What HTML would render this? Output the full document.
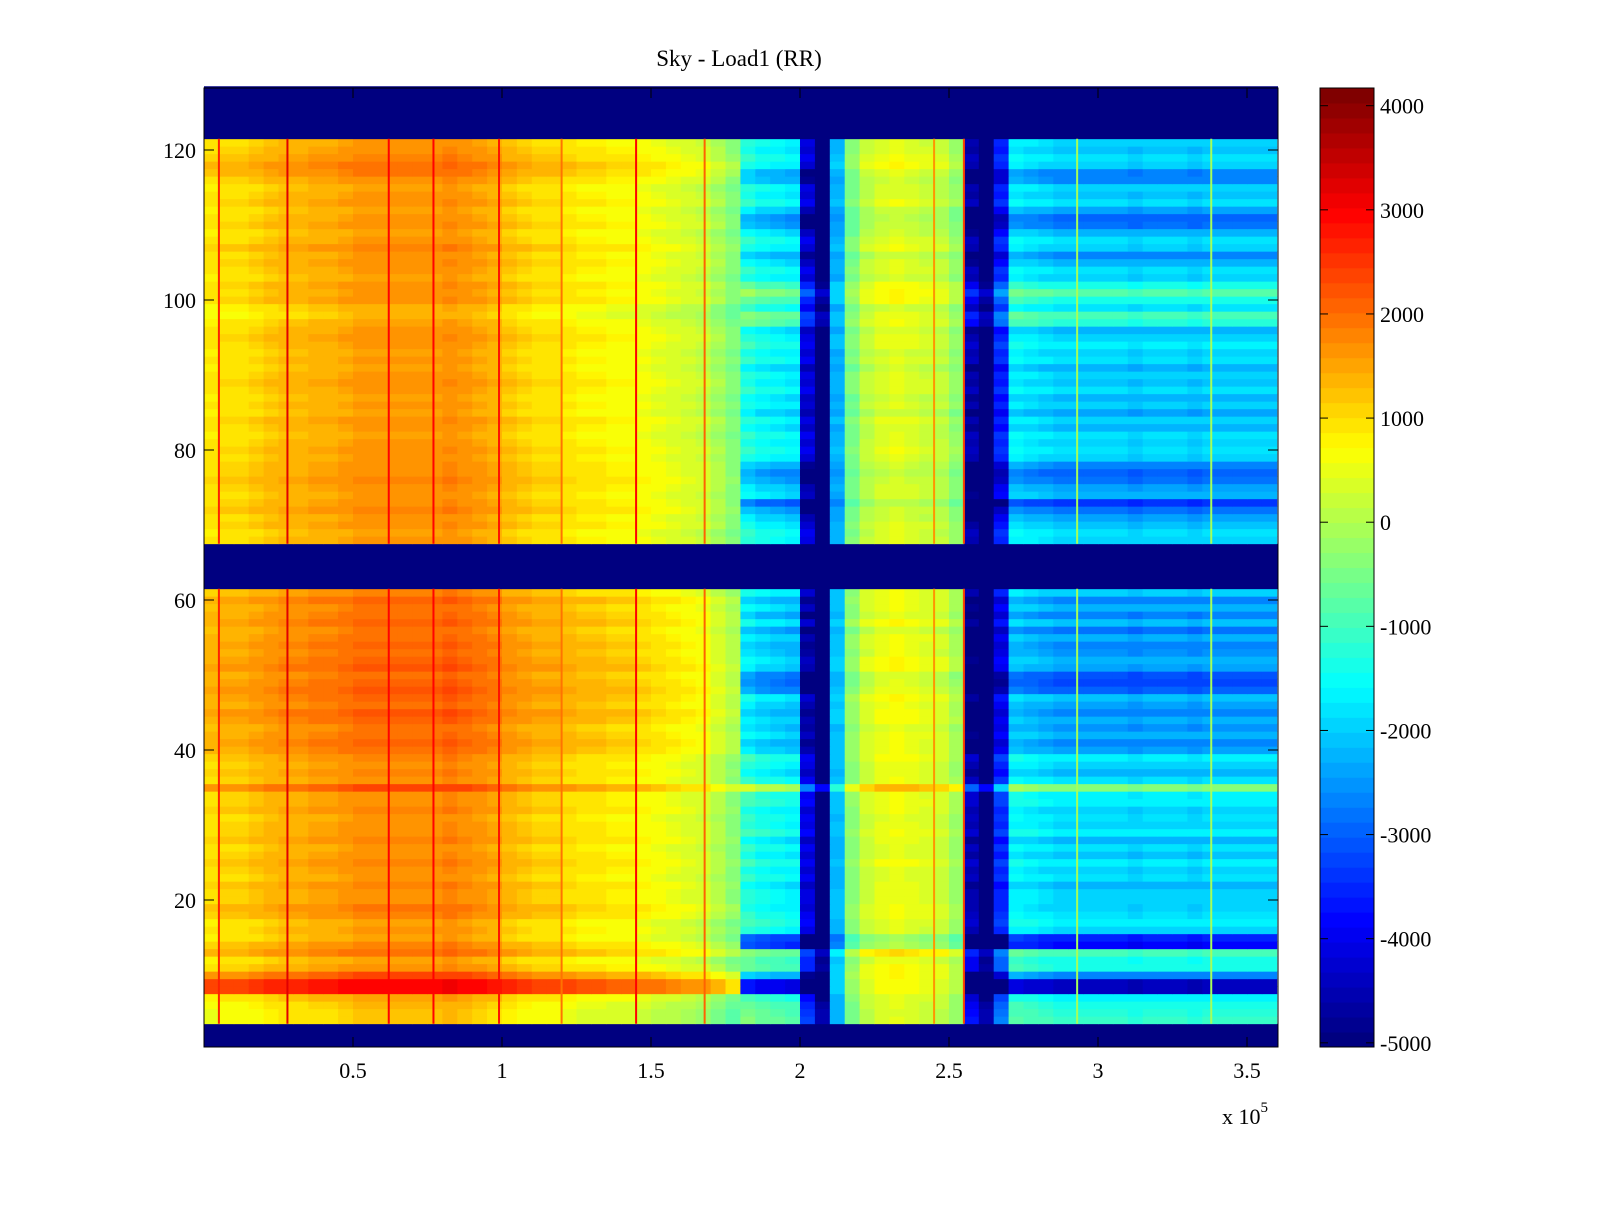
<!DOCTYPE html>
<html>
<head>
<meta charset="utf-8">
<style>
  html,body{margin:0;padding:0;background:#fff;}
  body{width:1600px;height:1200px;overflow:hidden;}
  svg text{font-family:"Liberation Serif","Times New Roman",serif;fill:#000;}
</style>
</head>
<body>
<svg id="chart" width="1600" height="1200" viewBox="0 0 1600 1200" xmlns="http://www.w3.org/2000/svg">
  <rect x="0" y="0" width="1600" height="1200" fill="#fff"/>
  <text x="739" y="66" font-size="23" text-anchor="middle">Sky - Load1 (RR)</text>
  <g id="cells"></g>
  <g id="lines"></g>
  <g id="axes"></g>
  <g id="cbar"></g>
</svg>
<script>
// ---- data (values in units; row offsets in hundreds) ----
const xBinWidth = 5000;
const colBase = [800,900,900,1000,1100,1200,1200,1300,1300,1400,
  1500,1500,1500,1500,1500,1500,1600,1500,1400,1300,
  1100,1000,900,900,800,700,700,600,600,500,
  400,300,200,100,-200,-500,-900,-1100,-1200,-1300,
  -3800,-5000,-2200,-400,200,400,500,400,300,200,
  -200,-4200,-5000,-3200,-1300,-1400,-1500,-1600,-1600,-1600,
  -1600,-1600,-1700,-1600,-1600,-1600,-1700,-1600,-1600,-1600,-1600,-1600];
const colWeight = [0,0,0,0,0,0,0,0,0,0, 0,0,0,0,0,0,0,0,0,0, 0,0,0,0,0,0,0,0,0,0,
  0,0,0,0,0,0,1,1,1,1, 1,1,0.3,0.3,0.3,0.3,0.3,0.3,0.3,0.3,
  0.3,1,1,1,1,1,1,1,1,1, 1,1,1,1,1,1,1,1,1,1,1,1];
const maskedRows = [1,2,3,62,63,64,65,66,67,122,123,124,125,126,127,128];
const rowLeft = [0,0,0, -3,-3,-2,0, 15,15, 8,
  2,0,5,3,0,1,0,3,4,2,
  2,3,1,2,3,2,1,3,2,2,1,3,2,2,8,2,3,2,3,
  5,6,5,4,6,7,5,6,7,6,5,7,6,5,6,5,4,6,5,4,6,3,
  0,0,0,0,0,0,
  1,0,2,1,3,2,1,2,3,2,2,1,2,
  1,0,1,2,0,1,0,1,2,1,0,1,0,1,2,1,0,-2,-1,2,
  1,2,0,1,2,1,3,1,0,2,1,0,2,1,0,2,4,5,3,2,1,
  0,0,0,0,0,0,0];
const rowRight = [0,0,0, 5,4,3,0, -28,-28, -10,
  3,2,6,-22,-20,-3,0,-2,-4,-3,
  -3,-6,-2,-4,-1,-5,-2,-6,0,-3,-2,-4,0,-1,12,-2,-6,-3,-1,
  -8,-10,-6,-9,-7,-10,-8,-5,-14,-16,-15,-8,-6,-9,-10,-7,-12,-5,-11,-6,-10,-4,
  0,0,0,0,0,0,
  -3,-2,-5,-8,-12,-18,-6,-8,-12,-14,-10,-4,-2,
  -4,-2,-6,-3,-8,-4,-6,-2,-5,-3,-7,-2,-4,-1,-3,-6,4,6,-2,3,
  8,2,-4,-2,-6,-10,-4,-2,-6,-12,-13,-8,-2,-5,-3,-10,-11,-4,-2,-5,-3,
  0,0,0,0,0,0,0];
const lineX = [0.05,0.28,0.62,0.77,0.99,1.2,1.45,1.68,2.45,2.55,2.93,3.38];
const lineDelta = [1800,2000,1500,1500,1500,1200,2500,2000,1500,2500,1500,1500];
const xTicks = [0.5,1,1.5,2,2.5,3,3.5];
const xTickLabels = ["0.5","1","1.5","2","2.5","3","3.5"];
const yTicks = [20,40,60,80,100,120];
const cbTicks = [-5000,-4000,-3000,-2000,-1000,0,1000,2000,3000,4000];
const cbTickLabels = ["-5000","-4000","-3000","-2000","-1000","0","1000","2000","3000","4000"];
const cMin = -5040, cMax = 4170;

// ---- geometry ----
const PL=204, PR=1278, PT=88, PB=1047;
const xScale = x => PL + x*298/1e5;
const yScale = r => 1050 - r*7.5;
const NS='http://www.w3.org/2000/svg';
function jet(v){
  let t=(v-cMin)/(cMax-cMin); t=Math.max(0,Math.min(1,t));
  t=Math.floor(t*63.999)/63;
  const f=a=>Math.round(255*Math.max(0,Math.min(1,a)));
  const r=f(Math.min(4*t-1.5,-4*t+4.5)), g=f(Math.min(4*t-0.5,-4*t+3.5)), b=f(Math.min(4*t+0.5,-4*t+2.5));
  return `rgb(${r},${g},${b})`;
}
function mk(tag,attrs,parent){const e=document.createElementNS(NS,tag);for(const k in attrs)e.setAttribute(k,attrs[k]);parent.appendChild(e);return e;}

const cells=document.getElementById('cells');
for(let r=1;r<=128;r++){
  const y0=yScale(r+0.5), h=7.5;
  if(maskedRows.includes(r)){
    const e=mk('rect',{x:PL,y:y0,width:PR-PL,height:h+0.4,fill:jet(cMin)},cells);
    
    
    continue;
  }
  for(let c=0;c<colBase.length;c++){
    const w=colWeight[c];
    const v=colBase[c]+100*((1-w)*rowLeft[r-1]+w*rowRight[r-1]);
    const x0=xScale(c*xBinWidth), x1=xScale((c+1)*xBinWidth);
    const e=mk('rect',{x:x0,y:y0,width:x1-x0+0.4,height:h+0.4,fill:jet(v)},cells);
    
    
  }
}
const lines=document.getElementById('lines');
const segs=[[3.5,61.5],[67.5,121.5]];
lineX.forEach((lx,i)=>{
  const c=Math.min(colBase.length-1,Math.floor(lx*1e5/xBinWidth));
  segs.forEach(s=>{
    const e=mk('rect',{x:xScale(lx*1e5)-1,y:yScale(s[1]),width:2,height:yScale(s[0])-yScale(s[1]),fill:jet(colBase[c]+lineDelta[i])},lines);
    
    
  });
});

// ---- axes ----
const axes=document.getElementById('axes');
const box=mk('rect',{x:PL,y:PT,width:PR-PL,height:PB-PT,fill:'none',stroke:'#000','stroke-width':1},axes);


xTicks.forEach((t,i)=>{
  const x=xScale(t*1e5);
  mk('line',{x1:x,y1:PB,x2:x,y2:PB-10,stroke:'#000'},axes);
  mk('line',{x1:x,y1:PT,x2:x,y2:PT+10,stroke:'#000'},axes);
  const tx=mk('text',{x:x,y:1078,'font-size':22,'text-anchor':'middle'},axes);
  tx.textContent=xTickLabels[i];
  
  
});
yTicks.forEach(t=>{
  const y=yScale(t);
  mk('line',{x1:PL,y1:y,x2:PL+10,y2:y,stroke:'#000'},axes);
  mk('line',{x1:PR,y1:y,x2:PR-10,y2:y,stroke:'#000'},axes);
  const tx=mk('text',{x:196,y:y+8,'font-size':22,'text-anchor':'end'},axes);
  tx.textContent=String(t);
  
  
});
const ex=mk('text',{x:1222,y:1124,'font-size':22},axes);
ex.textContent='x 10';


const ex2=mk('tspan',{dy:-12,'font-size':15},ex);
ex2.textContent='5';

// ---- colorbar ----
const cb=document.getElementById('cbar');
const CL=1320, CR=1374, n=64;
for(let i=0;i<n;i++){
  const v=cMin+(i+0.5)*(cMax-cMin)/n;
  const y1=PB-(i+1)*(PB-PT)/n;
  const e=mk('rect',{x:CL,y:y1,width:CR-CL,height:(PB-PT)/n+0.5,fill:jet(v)},cb);
  
  
}
mk('rect',{x:CL,y:PT,width:CR-CL,height:PB-PT,fill:'none',stroke:'#000'},cb);
const cbY=v=>PB-(v-cMin)/(cMax-cMin)*(PB-PT);
cbTicks.forEach((t,i)=>{
  const y=cbY(t);
  mk('line',{x1:CL,y1:y,x2:CL+8,y2:y,stroke:'#000'},cb);
  mk('line',{x1:CR,y1:y,x2:CR-8,y2:y,stroke:'#000'},cb);
  const tx=mk('text',{x:1380,y:y+8,'font-size':22},cb);
  tx.textContent=cbTickLabels[i];
  
  
});
</script>
</body>
</html>
